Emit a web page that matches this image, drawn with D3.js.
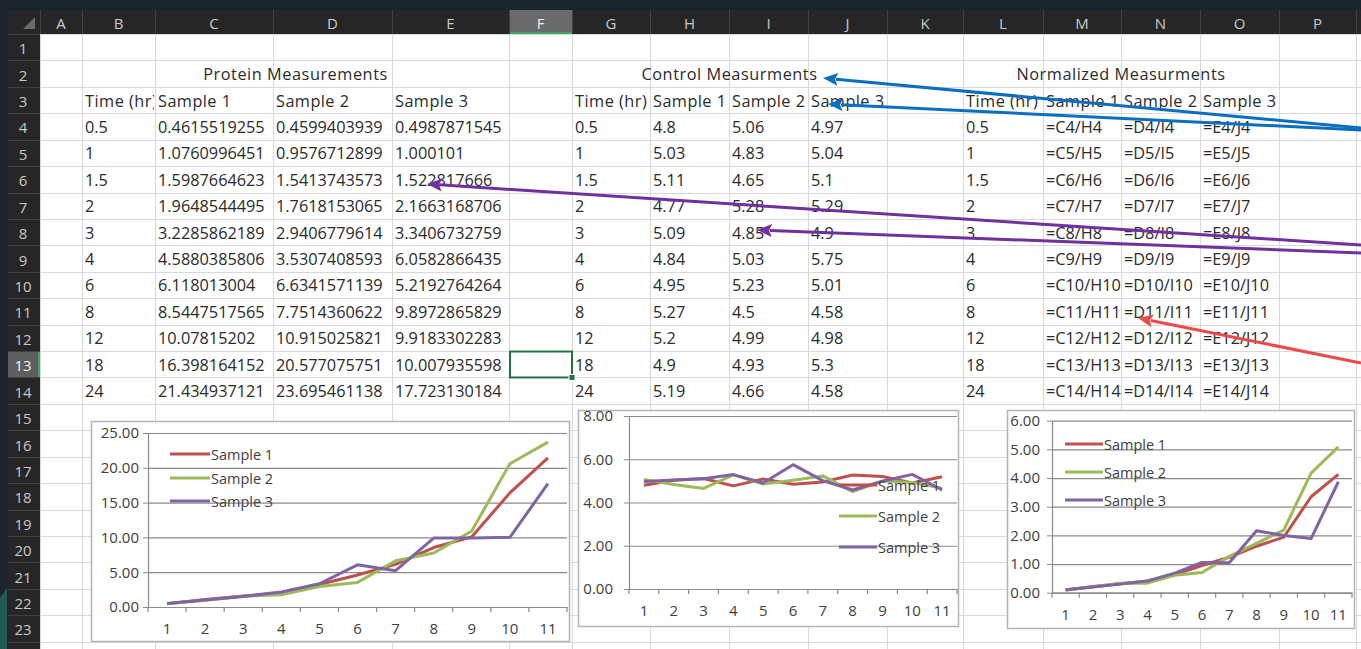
<!DOCTYPE html>
<html><head><meta charset="utf-8">
<script src="https://cdn.jsdelivr.net/npm/d3@7"></script>
<style>html,body{margin:0;padding:0;background:#fff;overflow:hidden}svg{display:block}</style>
</head><body><svg id="s" width="1361" height="649"></svg>
<script>
// ---------------- DATA ----------------
const timeLabels = ["0.5","1","1.5","2","3","4","6","8","12","18","24"];
const categories = [1,2,3,4,5,6,7,8,9,10,11];
const seriesNames = ["Sample 1","Sample 2","Sample 3"];
const protein1 = [0.4615519255,1.0760996451,1.5987664623,1.9648544495,3.2285862189,4.5880385806,6.118013004,8.5447517565,10.07815202,16.398164152,21.434937121];
const protein2 = [0.4599403939,0.9576712899,1.5413743573,1.7618153065,2.9406779614,3.5307408593,6.6341571139,7.7514360622,10.915025821,20.577075751,23.695461138];
const protein3 = [0.4987871545,1.000101,1.522817666,2.1663168706,3.3406732759,6.0582866435,5.2192764264,9.8972865829,9.9183302283,10.007935598,17.723130184];
const control1 = [4.8,5.03,5.11,4.77,5.09,4.84,4.95,5.27,5.2,4.9,5.19];
const control2 = [5.06,4.83,4.65,5.28,4.85,5.03,5.23,4.5,4.99,4.93,4.66];
const control3 = [4.97,5.04,5.1,5.29,4.9,5.75,5.01,4.58,4.98,5.3,4.58];
const norm1 = [0.096,0.214,0.313,0.412,0.634,0.948,1.236,1.621,1.938,3.347,4.130];
const norm2 = [0.091,0.198,0.331,0.334,0.606,0.702,1.268,1.723,2.187,4.174,5.085];
const norm3 = [0.100,0.198,0.299,0.410,0.682,1.054,1.042,2.161,1.992,1.888,3.870];
const tableTitles = ["Protein Measurements","Control Measurments","Normalized Measurments"];
const colLetters = ["A","B","C","D","E","F","G","H","I","J","K","L","M","N","O","P","Q"];

// ---------------- LAYOUT ----------------
const W = 1361, H = 649;
const colEdges = [40,82,155,273,392,509,572,650,729,808,887,963,1043,1121,1200,1279,1356,1435];
const RH = 26.42, ROW0 = 34, HDR_TOP = 10;
const rowTop = r => ROW0 + (r-1)*RH;
const ci = L => colLetters.indexOf(L);
const colL = L => colEdges[ci(L)], colR = L => colEdges[ci(L)+1];
const FONT = "'Open Sans', 'Liberation Sans', sans-serif";
const colors = ["#C0504D","#9BBB59","#8064A2"];

const svg = d3.select("#s");
svg.append("rect").attr("width",W).attr("height",H).attr("fill","#fff");

// cell grid
const grid = svg.append("g").attr("stroke","#d9d9d9").attr("stroke-width",1);
colEdges.forEach(x => grid.append("line").attr("x1",x+0.5).attr("x2",x+0.5).attr("y1",ROW0).attr("y2",H));
for (let r=1;r<=25;r++) grid.append("line").attr("x1",40).attr("x2",W).attr("y1",Math.round(rowTop(r))+0.5).attr("y2",Math.round(rowTop(r))+0.5);

// cell text
const cells = svg.append("g").attr("font-family",FONT).attr("font-size",16.3).attr("fill","#2b2b2b");
let clipN = 0;
function cell(L,row,text,clip,spacing){
  const t = cells.append("text").attr("x",colL(L)+3).attr("y",rowTop(row)+RH/2+0.5)
    .attr("dominant-baseline","central").text(text);
  if (spacing) t.attr("letter-spacing",spacing);
  if (clip){
    const id = "clip"+(clipN++);
    svg.append("clipPath").attr("id",id).append("rect").attr("x",colL(L)).attr("y",rowTop(row)).attr("width",colR(L)-colL(L)-1).attr("height",RH);
    t.attr("clip-path",`url(#${id})`);
  }
}
function title(L1,L2,row,text){
  cells.append("text").attr("x",(colL(L1)+colR(L2))/2).attr("y",rowTop(row)+RH/2+0.5)
    .attr("text-anchor","middle").attr("dominant-baseline","central").attr("letter-spacing",0.55).text(text);
}
title("B","E",2,tableTitles[0]);
title("G","J",2,tableTitles[1]);
title("L","O",2,tableTitles[2]);
const heads = [["B","C","D","E"],["G","H","I","J"],["L","M","N","O"]];
heads.forEach(h => {
  cell(h[0],3,"Time (hr)",true,0.5);
  seriesNames.forEach((s,i)=>cell(h[i+1],3,s,false,0.45));
});
const prot = [protein1,protein2,protein3], ctrl = [control1,control2,control3];
timeLabels.forEach((t,i) => {
  const row = 4+i;
  cell("B",row,t); cell("G",row,t); cell("L",row,t);
  prot.forEach((a,k)=>cell(heads[0][k+1],row,String(a[i])));
  ctrl.forEach((a,k)=>cell(heads[1][k+1],row,String(a[i])));
  ["C","D","E"].forEach((c,k)=>cell(heads[2][k+1],row,`=${c}${row}/${heads[1][k+1]}${row}`));
});

// headers
svg.append("rect").attr("x",0).attr("y",0).attr("width",W).attr("height",HDR_TOP).attr("fill","#1b242c");
svg.append("rect").attr("x",0).attr("y",0).attr("width",8).attr("height",H).attr("fill","#1b242c");
svg.append("path").attr("d","M0,598 L7,588 L7,649 L0,649Z").attr("fill","#1f5a55");
svg.append("rect").attr("x",8).attr("y",HDR_TOP).attr("width",W-8).attr("height",ROW0-HDR_TOP).attr("fill","#262626");
svg.append("rect").attr("x",8).attr("y",ROW0).attr("width",32).attr("height",H-ROW0).attr("fill","#262626");
// selected column F header & row 13 header
svg.append("rect").attr("x",colL("F")).attr("y",HDR_TOP).attr("width",colR("F")-colL("F")).attr("height",ROW0-HDR_TOP).attr("fill","#6a6a6a");
svg.append("rect").attr("x",colL("F")).attr("y",ROW0-2).attr("width",colR("F")-colL("F")).attr("height",2).attr("fill","#3aa564");
svg.append("rect").attr("x",8).attr("y",rowTop(13)).attr("width",32).attr("height",RH).attr("fill","#5e5e5e");
svg.append("rect").attr("x",38).attr("y",rowTop(13)).attr("width",2).attr("height",RH).attr("fill","#3aa564");
const hs = svg.append("g").attr("stroke","#404040");
colEdges.forEach(x => hs.append("line").attr("x1",x+0.5).attr("x2",x+0.5).attr("y1",HDR_TOP).attr("y2",ROW0));
for (let r=1;r<=25;r++) hs.append("line").attr("x1",8).attr("x2",40).attr("y1",Math.round(rowTop(r))+0.5).attr("y2",Math.round(rowTop(r))+0.5);
svg.append("path").attr("d","M35,17 L35,29 L23,29Z").attr("fill","#6b6b6b");
const ht = svg.append("g").attr("font-family",FONT).attr("font-size",15).attr("fill","#c9c9c9").attr("text-anchor","middle").attr("dominant-baseline","central");
colLetters.slice(0,16).forEach((L,i)=> ht.append("text").attr("x",(colEdges[i]+colEdges[i+1])/2).attr("y",(HDR_TOP+ROW0)/2+1).attr("fill",L==="F"?"#f0f0f0":"#c9c9c9").text(L));
for (let r=1;r<=23;r++) ht.append("text").attr("x",23).attr("y",rowTop(r)+RH/2+1).attr("fill",r===13?"#f0f0f0":"#c9c9c9").text(r);

// selected cell F13
svg.append("rect").attr("x",colL("F")+1).attr("y",rowTop(13)+0.5).attr("width",colR("F")-colL("F")-1).attr("height",RH-0.5)
  .attr("fill","none").attr("stroke","#217346").attr("stroke-width",2);
svg.append("rect").attr("x",colR("F")-3).attr("y",rowTop(14)-3).attr("width",6).attr("height",6).attr("fill","#217346").attr("stroke","#fff").attr("stroke-width",1);

// ---------------- CHARTS ----------------
function drawChart(cfg){
  const c = svg.append("g");
  c.append("rect").attr("x",cfg.box[0]+0.5).attr("y",cfg.box[1]+0.5).attr("width",cfg.box[2]-cfg.box[0]).attr("height",cfg.box[3]-cfg.box[1])
    .attr("fill","#fff").attr("stroke","#b4b4b4").attr("stroke-width",1.5);
  const x = d3.scaleBand().domain(categories).range([cfg.plot[0],cfg.plot[1]]).padding(0);
  const y = d3.scaleLinear().domain([0,cfg.yMax]).range([cfg.plot[2],cfg.plot[3]]);
  const ticks = d3.range(0,cfg.yMax+cfg.yStep/2,cfg.yStep);
  // gridlines
  c.append("g").attr("transform",`translate(${cfg.plot[0]},0)`)
    .call(d3.axisLeft(y).tickValues(ticks).tickSize(-(cfg.plot[1]-cfg.plot[0])).tickFormat(""))
    .call(g=>{g.select(".domain").remove(); g.selectAll("line").attr("stroke","#8a8a8a").attr("stroke-width",1.2);});
  // y axis
  c.append("g").attr("transform",`translate(${cfg.plot[0]},0)`)
    .call(d3.axisLeft(y).tickValues(ticks).tickSize(5).tickSizeOuter(0).tickPadding(cfg.yPad).tickFormat(d3.format(".2f")))
    .call(g=>{g.select(".domain").attr("stroke","#8a8a8a").attr("stroke-width",1.2);
      g.selectAll("line").attr("stroke","#8a8a8a");
      g.selectAll("text").attr("font-family",FONT).attr("font-size",15).attr("fill","#404040");});
  // x axis
  const xa = c.append("g").attr("transform",`translate(0,${cfg.plot[2]})`)
    .call(d3.axisBottom(x).tickSize(0).tickPadding(cfg.xPad))
    .call(g=>{g.select(".domain").attr("stroke","#8a8a8a").attr("stroke-width",1.2);
      g.selectAll("text").attr("font-family",FONT).attr("font-size",15).attr("fill","#404040");});
  const bounds = categories.map(d=>x(d)).concat([x(categories[categories.length-1])+x.bandwidth()]);
  xa.selectAll("line.bt").data(bounds).join("line").attr("class","bt")
    .attr("x1",d=>d).attr("x2",d=>d).attr("y1",0).attr("y2",5).attr("stroke","#8a8a8a").attr("stroke-width",1.2);
  // series
  const line = d3.line().x((d,i)=>x(categories[i])+x.bandwidth()/2).y(d=>y(d));
  cfg.series.forEach((s,k)=>{
    c.append("path").attr("d",line(s)).attr("fill","none").attr("stroke",colors[k]).attr("stroke-width",3).attr("stroke-linejoin","round");
  });
  // legend
  const lg = c.append("g");
  seriesNames.forEach((n,k)=>{
    const ly = cfg.legend.y[k];
    lg.append("line").attr("x1",cfg.legend.x0).attr("x2",cfg.legend.x1).attr("y1",ly).attr("y2",ly).attr("stroke",colors[k]).attr("stroke-width",3);
    lg.append("text").attr("x",cfg.legend.x1+1).attr("y",ly+0.5).attr("dominant-baseline","central")
      .attr("font-family",FONT).attr("font-size",14.5).attr("fill","#404040").text(n);
  });
}

drawChart({box:[91,421,569,641], plot:[148,567,607,433], yMax:25, yStep:5, yPad:4, xPad:16,
  series:[protein1,protein2,protein3], legend:{x0:170,x1:210,y:[454,478,501]}});
drawChart({box:[578,410,958,626], plot:[629,957,589,416], yMax:8, yStep:2, yPad:11, xPad:16,
  series:[control1,control2,control3], legend:{x0:839,x1:877,y:[485,516,547]}});
drawChart({box:[1007,410,1354,628], plot:[1052,1352,592.7,420.7], yMax:6, yStep:1, yPad:7, xPad:17,
  series:[norm1,norm2,norm3], legend:{x0:1065,x1:1103,y:[444,472,500]}});

// ---------------- ANNOTATION ARROWS ----------------
const arrows = [
  {color:"#0a6fc2", tail:[1361,128], tip:[823,78]},
  {color:"#0a6fc2", tail:[1361,130], tip:[828,104]},
  {color:"#7030a0", tail:[1361,245], tip:[427,184]},
  {color:"#7030a0", tail:[1361,253], tip:[757,230]},
  {color:"#f04848", tail:[1361,363], tip:[1138,318]}
];
arrows.forEach(a=>{
  const dx=a.tip[0]-a.tail[0], dy=a.tip[1]-a.tail[1], len=Math.hypot(dx,dy);
  const ux=dx/len, uy=dy/len, hl=15, hw=6.5;
  const bx=a.tip[0]-ux*hl, by=a.tip[1]-uy*hl;
  svg.append("line").attr("x1",a.tail[0]).attr("y1",a.tail[1]).attr("x2",bx+ux*2).attr("y2",by+uy*2)
    .attr("stroke",a.color).attr("stroke-width",3);
  svg.append("path").attr("d",`M${a.tip[0]},${a.tip[1]} L${bx-uy*hw},${by+ux*hw} L${bx+ux*3},${by+uy*3} L${bx+uy*hw},${by-ux*hw}Z`).attr("fill",a.color);
});
</script></body></html>
